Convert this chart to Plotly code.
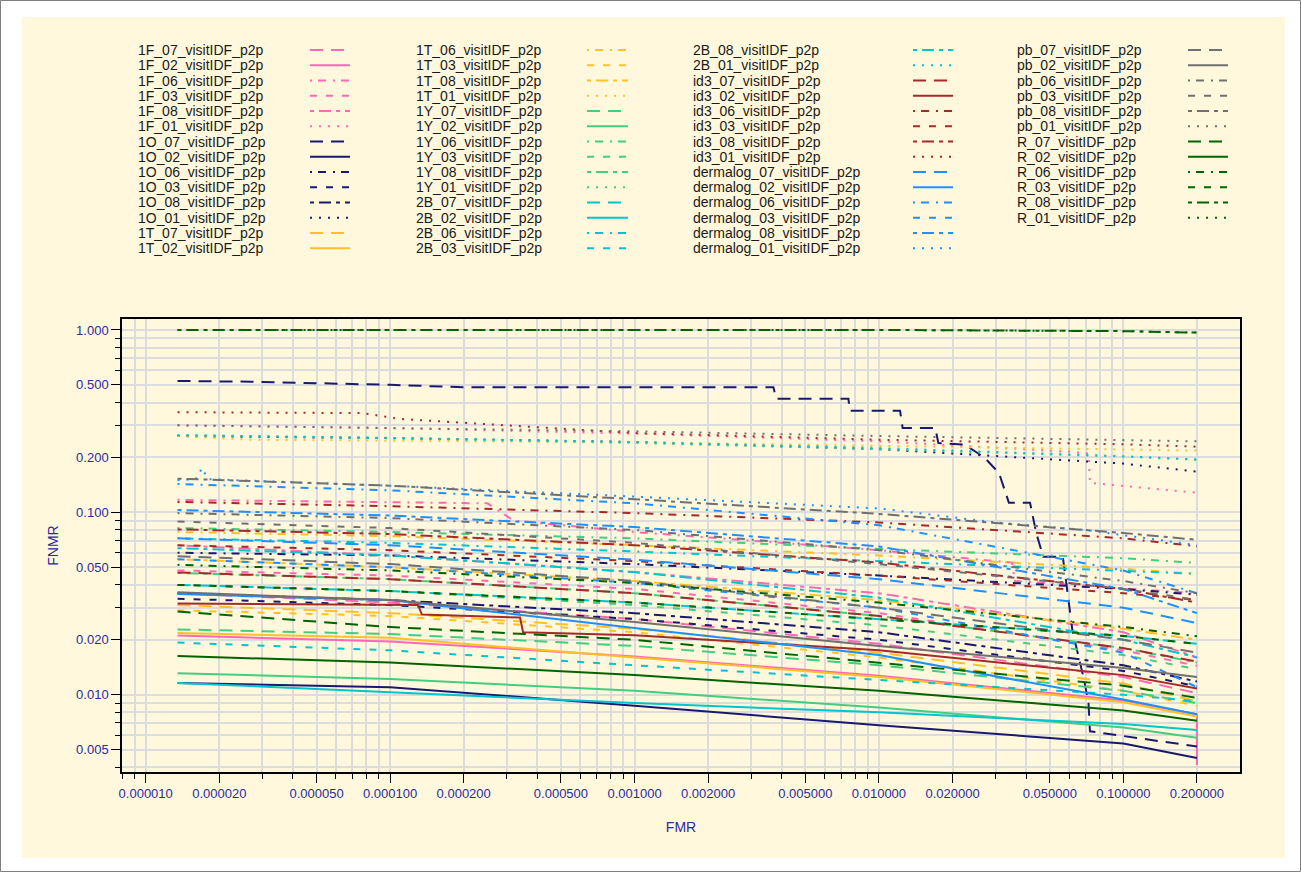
import math
import plotly.graph_objects as go

# ---------------------------------------------------------------- data ----
GROUPS = ["1F", "1O", "1T", "1Y", "2B", "id3", "dermalog", "pb", "R"]
SUFFIXES = ["07", "02", "06", "03", "08", "01"]

COLORS = {
    "1F": "#FF69B4", "1O": "#191970", "1T": "#FFC125", "1Y": "#43CD80",
    "2B": "#00C5CD", "id3": "#A52A2A", "dermalog": "#1E90FF",
    "pb": "#707070", "R": "#006400",
}

DASHES = {
    "07": "13px,8px",            # long dash
    "02": "solid",
    "06": "2px,6px,8px,7px",     # dot-dash
    "03": "7px,9px",             # dashed
    "08": "4px,5px,12px,5px",    # two-dash
    "01": "2px,7px",             # dotted
}

# common FMR operating points
FMR_GRID = [1.35e-5, 1e-4, 1e-3, 1e-2, 1e-1, 2e-1]

# FNMR at FMR_GRID, rows in SUFFIXES order (None -> own arrays below)
fnmr_1F = [
    [0.036, 0.032, 0.026, 0.019, 0.0125, 0.0102],
    None,
    None,
    [0.048, 0.045, 0.038, 0.028, 0.0175, 0.0144],
    [0.066, 0.058, 0.047, 0.036, 0.022, 0.016],
    None,
]
fnmr_1O = [
    None,
    [0.0116, 0.0110, 0.0087, 0.0068, 0.0054, 0.0045],
    [0.060, 0.058, 0.052, 0.045, 0.038, 0.0353],
    [0.0336, 0.031, 0.026, 0.020, 0.0135, 0.0111],
    [0.036, 0.033, 0.028, 0.022, 0.0145, 0.0118],
    [0.262, 0.255, 0.243, 0.222, 0.185, 0.167],
]
fnmr_1T = [
    [0.031, 0.028, 0.023, 0.017, 0.0115, 0.0092],
    [0.0218, 0.0205, 0.0160, 0.0125, 0.0091, 0.0076],
    [0.078, 0.074, 0.066, 0.058, 0.049, 0.046],
    [0.029, 0.027, 0.022, 0.016, 0.0105, 0.0087],
    [0.0553, 0.050, 0.042, 0.033, 0.023, 0.0200],
    None,
]
fnmr_1Y = [
    [0.0228, 0.0215, 0.0185, 0.0145, 0.0105, 0.0090],
    [0.0131, 0.0122, 0.0105, 0.0085, 0.0066, 0.0058],
    [0.082, 0.078, 0.072, 0.063, 0.056, 0.0528],
    [0.040, 0.037, 0.031, 0.024, 0.0165, 0.0138],
    [0.0465, 0.043, 0.036, 0.027, 0.018, 0.0150],
    [0.265, 0.255, 0.240, 0.222, 0.202, 0.194],
]
fnmr_2B = [
    [0.040, 0.037, 0.032, 0.026, 0.021, 0.019],
    [0.0116, 0.0103, 0.0090, 0.0080, 0.0069, 0.0064],
    [0.072, 0.068, 0.061, 0.054, 0.048, 0.046],
    [0.0193, 0.0175, 0.0145, 0.0120, 0.0100, 0.0092],
    [0.0636, 0.058, 0.047, 0.034, 0.020, 0.016],
    [0.265, 0.256, 0.243, 0.225, 0.203, 0.195],
]
fnmr_id3 = [
    [0.0468, 0.043, 0.036, 0.027, 0.018, 0.0152],
    None,
    [0.114, 0.108, 0.099, 0.088, 0.072, 0.0651],
    [0.066, 0.062, 0.054, 0.045, 0.036, 0.0331],
    [0.0806, 0.076, 0.066, 0.053, 0.038, 0.032],
    None,
]
fnmr_dermalog = [
    [0.072, 0.066, 0.055, 0.043, 0.030, 0.0247],
    [0.0357, 0.033, 0.0232, 0.0165, 0.0094, 0.0078],
    [0.143, 0.132, 0.112, 0.085, 0.048, 0.036],
    [0.0553, 0.050, 0.041, 0.030, 0.017, 0.0110],
    [0.103, 0.096, 0.083, 0.065, 0.038, 0.028],
    None,
]
fnmr_pb = [
    [0.0575, 0.052, 0.042, 0.030, 0.020, 0.0170],
    [0.0364, 0.033, 0.025, 0.0185, 0.0140, 0.0125],
    [0.099, 0.093, 0.080, 0.062, 0.042, 0.036],
    [0.089, 0.082, 0.068, 0.052, 0.038, 0.0331],
    [0.153, 0.140, 0.118, 0.098, 0.077, 0.0707],
    [0.300, 0.290, 0.278, 0.262, 0.250, 0.245],
]
fnmr_R = [
    [0.0286, 0.0235, 0.0200, 0.0150, 0.0112, 0.0096],
    [0.0163, 0.0150, 0.0128, 0.0105, 0.0082, 0.0072],
    [0.0515, 0.048, 0.041, 0.032, 0.0235, 0.0209],
    [0.040, 0.037, 0.032, 0.026, 0.021, 0.019],
    [1.0, 1.0, 1.0, 1.0, 0.985, 0.967],
    [1.0, 1.0, 1.0, 1.0, 0.985, 0.967],
]

# curves with their own operating points
fmr_1F_02 = [1.35e-5, 2.7e-5, 1e-4, 1e-3, 1e-2, 0.1, 0.2, 0.2]
fnmr_1F_02 = [0.0211, 0.0205, 0.0196, 0.0162, 0.0127, 0.0093, 0.0078, 0.0041]

fmr_1F_06 = [1.35e-5, 2.5e-4, 3.2e-4, 1e-3, 1e-2, 0.035, 0.036, 0.2]
fnmr_1F_06 = [0.117, 0.112, 0.090, 0.078, 0.062, 0.053, 0.042, 0.036]

fmr_1F_01 = [1.35e-5, 1e-4, 1e-3, 1e-2, 0.06, 0.072, 0.073, 0.2]
fnmr_1F_01 = [0.30, 0.29, 0.27, 0.245, 0.215, 0.21, 0.145, 0.128]

fmr_1O_07 = [1.35e-5, 2.7e-5, 1e-4, 2e-4, 3.7e-3, 3.8e-3, 7.5e-3, 7.6e-3,
             0.0122, 0.0125, 0.017, 0.0175, 0.0224, 0.027, 0.031, 0.034,
             0.0415, 0.044, 0.047, 0.0565, 0.058, 0.060, 0.062, 0.066,
             0.069, 0.072, 0.073, 0.2]
fnmr_1O_07 = [0.525, 0.52, 0.50, 0.485, 0.485, 0.42, 0.42, 0.36,
              0.36, 0.29, 0.29, 0.24, 0.235, 0.20, 0.164, 0.113,
              0.113, 0.077, 0.057, 0.057, 0.044, 0.030, 0.022, 0.0156,
              0.0121, 0.009, 0.0063, 0.0052]

fmr_1T_01 = [1.35e-5, 2.7e-5, 1e-3, 1e-2, 1e-1, 0.2]
fnmr_1T_01 = [0.262, 0.250, 0.242, 0.232, 0.222, 0.218]

fmr_id3_02 = [1.35e-5, 1.3e-4, 1.35e-4, 3.4e-4, 3.5e-4, 1e-3, 1e-2, 1e-1, 0.2]
fnmr_id3_02 = [0.0316, 0.0310, 0.0275, 0.0265, 0.0220, 0.0212, 0.0175, 0.0128, 0.0108]

fmr_id3_01 = [1.35e-5, 7.7e-5, 1.1e-4, 1e-3, 1e-2, 1e-1, 0.2]
fnmr_id3_01 = [0.354, 0.350, 0.325, 0.272, 0.250, 0.236, 0.229]

fmr_dermalog_01 = [1.35e-5, 1.6e-5, 1.7e-5, 1.8e-5, 1e-4, 1e-3, 1e-2, 3e-2, 7e-2, 0.2]
fnmr_dermalog_01 = [0.150, 0.152, 0.175, 0.152, 0.140, 0.122, 0.105, 0.088, 0.080, 0.066]

GROUP_FNMR = {
    "1F": fnmr_1F, "1O": fnmr_1O, "1T": fnmr_1T, "1Y": fnmr_1Y, "2B": fnmr_2B,
    "id3": fnmr_id3, "dermalog": fnmr_dermalog, "pb": fnmr_pb, "R": fnmr_R,
}
OWN_POINTS = {
    "1F_02": (fmr_1F_02, fnmr_1F_02),
    "1F_06": (fmr_1F_06, fnmr_1F_06),
    "1F_01": (fmr_1F_01, fnmr_1F_01),
    "1O_07": (fmr_1O_07, fnmr_1O_07),
    "1T_01": (fmr_1T_01, fnmr_1T_01),
    "id3_02": (fmr_id3_02, fnmr_id3_02),
    "id3_01": (fmr_id3_01, fnmr_id3_01),
    "dermalog_01": (fmr_dermalog_01, fnmr_dermalog_01),
}

# axis ticks
X_TICKS = [1e-5, 2e-5, 5e-5, 1e-4, 2e-4, 5e-4, 1e-3, 2e-3, 5e-3, 1e-2, 2e-2, 5e-2, 0.1, 0.2]
X_TICK_TEXT = ["0.000010", "0.000020", "0.000050", "0.000100", "0.000200", "0.000500",
               "0.001000", "0.002000", "0.005000", "0.010000", "0.020000", "0.050000",
               "0.100000", "0.200000"]
X_MINOR = [8e-6, 9e-6, 3e-5, 4e-5, 6e-5, 7e-5, 8e-5, 9e-5, 3e-4, 4e-4, 6e-4, 7e-4, 8e-4, 9e-4,
           3e-3, 4e-3, 6e-3, 7e-3, 8e-3, 9e-3, 3e-2, 4e-2, 6e-2, 7e-2, 8e-2, 9e-2]
Y_TICKS = [1.0, 0.5, 0.2, 0.1, 0.05, 0.02, 0.01, 0.005]
Y_TICK_TEXT = ["1.000", "0.500", "0.200", "0.100", "0.050", "0.020", "0.010", "0.005"]
Y_MINOR = [0.9, 0.8, 0.7, 0.6, 0.4, 0.3, 0.09, 0.08, 0.07, 0.06, 0.04, 0.03,
           0.009, 0.008, 0.007, 0.006, 0.004]

# ------------------------------------------------------------- layout ----
FIG_W, FIG_H = 1301, 872
PLOT_L, PLOT_R, PLOT_T, PLOT_B = 122, 1240, 319, 772
PW, PH = PLOT_R - PLOT_L, PLOT_B - PLOT_T


def px(x):
    return (x - PLOT_L) / PW


def py(y):
    return (PLOT_B - y) / PH


AXIS_TEXT = "#2b2b9e"
GRID = "#dcdcdc"
CREAM = "#FFF8DC"
FONT = "Liberation Sans, Arial, Helvetica, sans-serif"

fig = go.Figure()

for g in GROUPS:
    for i, s in enumerate(SUFFIXES):
        name = f"{g}_{s}"
        if name in OWN_POINTS:
            xs, ys = OWN_POINTS[name]
        else:
            xs, ys = FMR_GRID, GROUP_FNMR[g][i]
        fig.add_trace(go.Scatter(
            x=xs, y=ys, mode="lines", name=f"{name}_visitIDF_p2p",
            line=dict(color=COLORS[g], width=2, dash=DASHES[s]),
            showlegend=False, hoverinfo="skip",
        ))

# legend: 4 columns, label text followed by a line sample
legend_entries = [(g, s) for g in GROUPS for s in SUFFIXES]
COL_TEXT_X = [136, 414, 691, 1015]
COL_LINE_X = [(310, 350), (587, 628), (913, 953), (1188, 1228)]
ROW_Y0, ROW_DY, ROWS = 50, 15.25, 14

shapes = [
    # outer frame and cream panel
    dict(type="rect", xref="paper", yref="paper", layer="below",
         x0=px(0.5), x1=px(FIG_W - 0.5), y0=py(0.5), y1=py(FIG_H - 0.5),
         line=dict(color="#7f7f7f", width=1), fillcolor="white"),
    dict(type="rect", xref="paper", yref="paper", layer="below",
         x0=px(22), x1=px(1285), y0=py(17), y1=py(858),
         line=dict(width=0), fillcolor=CREAM),
]
annotations = []
for k, (g, s) in enumerate(legend_entries):
    col, row = divmod(k, ROWS)
    yrow = ROW_Y0 + row * ROW_DY
    annotations.append(dict(
        xref="paper", yref="paper", x=px(COL_TEXT_X[col]), y=py(yrow),
        xanchor="left", yanchor="middle", showarrow=False,
        text=f"{g}_{s}_visitIDF_p2p", font=dict(family=FONT, size=14, color="#1a1a1a"),
    ))
    x0, x1 = COL_LINE_X[col]
    shapes.append(dict(
        type="line", xref="paper", yref="paper",
        x0=px(x0), x1=px(x1), y0=py(yrow), y1=py(yrow),
        line=dict(color=COLORS[g], width=2, dash=DASHES[s]),
    ))

axis_common = dict(
    type="log", showline=True, linecolor="black", linewidth=1.5, mirror=True,
    ticks="outside", ticklen=9, tickcolor="black", tickwidth=1.2,
    showgrid=True, gridcolor=GRID, gridwidth=1.5, zeroline=False,
    tickfont=dict(family=FONT, size=13, color=AXIS_TEXT),
    tickmode="array",
)

fig.update_layout(
    width=FIG_W, height=FIG_H,
    margin=dict(l=PLOT_L, r=FIG_W - PLOT_R, t=PLOT_T, b=FIG_H - PLOT_B, autoexpand=False),
    paper_bgcolor="white", plot_bgcolor=CREAM,
    showlegend=False,
    shapes=shapes, annotations=annotations,
    xaxis=dict(
        **axis_common,
        range=[math.log10(8.0e-6), math.log10(0.30)],
        tickvals=X_TICKS, ticktext=X_TICK_TEXT,
        minor=dict(tickmode="array", tickvals=X_MINOR, ticks="outside", ticklen=5,
                   tickcolor="black", showgrid=True, gridcolor=GRID, gridwidth=1.5),
        title=dict(text="FMR", font=dict(family=FONT, size=14, color=AXIS_TEXT), standoff=22),
    ),
    yaxis=dict(
        **axis_common,
        range=[-2.424, 0.060],
        tickvals=Y_TICKS, ticktext=Y_TICK_TEXT,
        minor=dict(tickmode="array", tickvals=Y_MINOR, ticks="outside", ticklen=5,
                   tickcolor="black", showgrid=True, gridcolor=GRID, gridwidth=1.5),
        title=dict(text="FNMR", font=dict(family=FONT, size=14, color=AXIS_TEXT), standoff=14),
    ),
)

fig.write_html("out.html")
